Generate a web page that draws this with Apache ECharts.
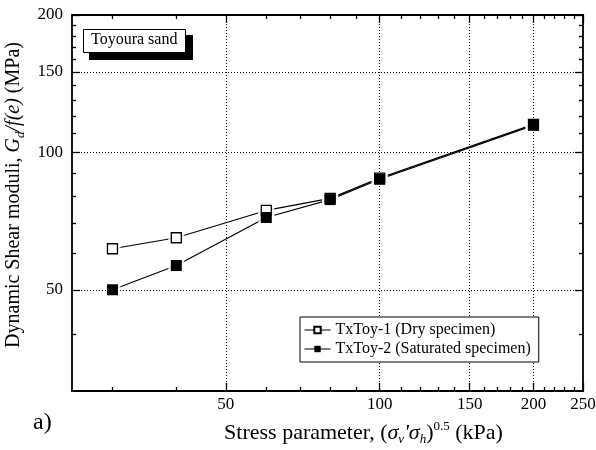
<!DOCTYPE html>
<html>
<head>
<meta charset="utf-8">
<script src="https://cdn.jsdelivr.net/npm/echarts@6/dist/echarts.min.js"></script>
<style>
  html, body { margin: 0; padding: 0; background: #fff; }
  #chart { width: 596px; height: 450px; }
</style>
</head>
<body>
<div id="chart"></div>
<script>
// Stress parameter (kPa) and normalised dynamic shear modulus (MPa)
const stress = [30, 40, 60, 80, 100, 200];
const dryModulus = [61.5, 65.0, 74.6, 79.3, 87.8, 115.2];
const satModulus = [50.0, 56.5, 72.0, 78.8, 87.3, 114.6];
const seriesNames = ['TxToy-1 (Dry specimen)', 'TxToy-2 (Saturated specimen)'];

// Axis ranges and tick positions (log axes)
const xRange = [25, 250];
const yRange = [30, 200];
const xMajorTicks = [50, 100, 150, 200, 250];
const xMinorTicks = [30, 40, 60, 70, 80, 90, 110, 120, 130, 140, 160, 170, 180, 190, 210, 220, 230, 240];
const yMajorTicks = [50, 100, 150, 200];
const yMinorTicks = [40, 60, 70, 80, 90, 110, 120, 130, 140, 160, 170, 180, 190];
const xGridValues = [50, 100, 150, 200];
const yGridValues = [50, 100, 150];

const FONT = '"Liberation Serif", "Times New Roman", serif';
const pairs = ys => stress.map((x, i) => [x, ys[i]]);

function logAxis(range, position, gridIndex, ticks, tickLen, showLabels, labelMargin, extra) {
  return Object.assign({
    type: 'log',
    logBase: 10,
    min: range[0],
    max: range[1],
    position: position,
    gridIndex: gridIndex,
    axisLine: { show: gridIndex === 0, onZero: false, lineStyle: { color: '#000', width: 1.8 } },
    axisTick: { show: true, inside: true, length: tickLen, customValues: ticks,
                lineStyle: { color: '#000', width: 1.3 } },
    axisLabel: showLabels ? {
      show: true, customValues: ticks, margin: labelMargin, color: '#000',
      fontSize: 17, fontFamily: FONT, formatter: v => String(Math.round(v))
    } : { show: false },
    splitLine: { show: false },
    minorTick: { show: false },
    minorSplitLine: { show: false }
  }, extra || {});
}

function richName(size) {
  return {
    it: { fontSize: size, fontFamily: FONT, fontStyle: 'italic', color: '#000', lineHeight: 26 },
    sub: { fontSize: 13, fontFamily: FONT, fontStyle: 'italic', color: '#000', verticalAlign: 'bottom', lineHeight: 12 },
    sup: { fontSize: 13, fontFamily: FONT, color: '#000', verticalAlign: 'top', lineHeight: 12 }
  };
}

const gridRect = { left: 72, right: 13, top: 15, bottom: 59, containLabel: false, outerBoundsMode: 'none' };

const option = {
  animation: false,
  backgroundColor: '#fff',
  legend: {
    data: seriesNames,
    orient: 'vertical',
    left: 300, top: 317,
    padding: [5, 8, 5, 4],
    itemGap: 3,
    itemWidth: 26,
    itemHeight: 8,
    z: 20,
    backgroundColor: '#fff',
    borderColor: '#000',
    borderWidth: 1,
    lineStyle: { opacity: 1, color: '#000', width: 1 },
    textStyle: { fontSize: 16, fontFamily: FONT, color: '#000' }
  },
  grid: [Object.assign({}, gridRect), Object.assign({}, gridRect)],
  xAxis: [
    logAxis(xRange, 'bottom', 0, xMajorTicks, 8, true, 5, {
      name: 'Stress parameter, ({it|σ}{sub|v}{it|\'σ}{sub|h}){sup|0.5} (kPa)',
      nameLocation: 'middle',
      nameGap: 29,
      nameTextStyle: { rich: richName(22), fontSize: 22, fontFamily: FONT, color: '#000',
                       lineHeight: 26, padding: [0, 0, 0, 72] }
    }),
    logAxis(xRange, 'top', 0, xMajorTicks, 8, false, 0),
    logAxis(xRange, 'bottom', 1, xMinorTicks, 4, false, 0),
    logAxis(xRange, 'top', 1, xMinorTicks, 4, false, 0)
  ],
  yAxis: [
    logAxis(yRange, 'left', 0, yMajorTicks, 8, true, 9, {
      name: 'Dynamic Shear moduli, {it|G}{sub|d}{it|/f(e)} (MPa)',
      nameLocation: 'middle',
      nameRotate: 90,
      nameGap: 30,
      nameTextStyle: { rich: richName(20), fontSize: 20, fontFamily: FONT, color: '#000',
                       lineHeight: 26, padding: [0, 0, 0, 16] }
    }),
    logAxis(yRange, 'right', 0, yMajorTicks, 8, false, 0),
    logAxis(yRange, 'left', 1, yMinorTicks, 4, false, 0),
    logAxis(yRange, 'right', 1, yMinorTicks, 4, false, 0)
  ],
  graphic: [
    // "Toyoura sand" label box with its hard drop shadow
    { type: 'rect', left: 89, top: 35, z: 30, shape: { width: 104, height: 25 }, style: { fill: '#000' } },
    { type: 'rect', left: 83, top: 29, z: 31, shape: { width: 102, height: 23 },
      style: { fill: '#fff', stroke: '#000', lineWidth: 1 } },
    { type: 'text', left: 91, top: 32, z: 32,
      style: { text: 'Toyoura sand', fontSize: 16, fontFamily: FONT, fill: '#000' } },
    { type: 'text', left: 33, top: 411,
      style: { text: 'a)', fontSize: 24, fontFamily: FONT, fill: '#000' } }
  ],
  series: [
    {
      // connecting line, dry specimen (also carries the dotted grid)
      type: 'line', name: 'dry-line', data: pairs(dryModulus),
      xAxisIndex: 0, yAxisIndex: 0, showSymbol: false, silent: true, z: 2,
      lineStyle: { color: '#000', width: 1.2 },
      markLine: {
        silent: true, symbol: ['none', 'none'], label: { show: false },
        lineStyle: { type: [1, 2], color: '#000', width: 1 },
        data: xGridValues.map(v => ({ xAxis: v })).concat(yGridValues.map(v => ({ yAxis: v })))
      }
    },
    {
      type: 'line', name: 'sat-line', data: pairs(satModulus),
      xAxisIndex: 0, yAxisIndex: 0, showSymbol: false, silent: true, z: 2,
      lineStyle: { color: '#000', width: 1.2 }
    },
    {
      // white halo that breaks the lines just before each marker
      type: 'scatter', name: 'halo', data: pairs(dryModulus).concat(pairs(satModulus)),
      xAxisIndex: 0, yAxisIndex: 0, symbol: 'rect', symbolSize: 16, silent: true, z: 3,
      itemStyle: { color: '#fff' }
    },
    {
      type: 'line', name: seriesNames[0], data: pairs(dryModulus),
      xAxisIndex: 0, yAxisIndex: 0, symbol: 'rect', symbolSize: 10, showSymbol: true, z: 4,
      lineStyle: { opacity: 0 },
      itemStyle: { color: '#fff', borderColor: '#000', borderWidth: 1.3 }
    },
    {
      type: 'line', name: seriesNames[1], data: pairs(satModulus),
      xAxisIndex: 0, yAxisIndex: 0, symbol: 'rect', symbolSize: 11, showSymbol: true, z: 5,
      lineStyle: { opacity: 0 },
      itemStyle: { color: '#000', borderColor: '#000', borderWidth: 0 }
    }
  ]
};

const chart = echarts.init(document.getElementById('chart'), null, { renderer: 'canvas' });
chart.setOption(option);
</script>
</body>
</html>
